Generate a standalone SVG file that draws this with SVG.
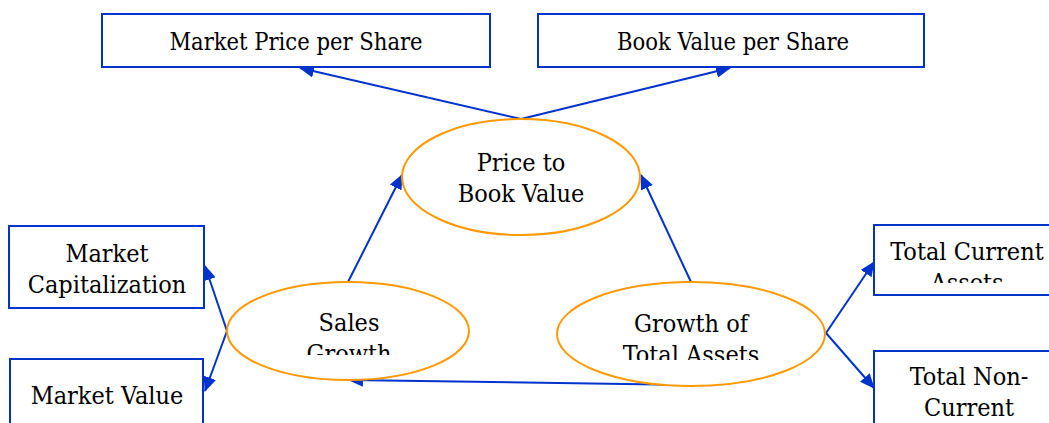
<svg xmlns="http://www.w3.org/2000/svg" width="1049" height="423" viewBox="0 0 1049 423">
  <style>
    .box { fill: #ffffff; stroke: #0033cc; stroke-width: 2; }
    .oval { fill: #ffffff; stroke: #ff9900; stroke-width: 2; }
    .lbl { font-family: 'DejaVu Serif', serif; font-stretch: condensed; font-size: 25px; fill: #000000; text-anchor: middle; }
    .top { font-size: 23.5px; }
    .link { fill: none; stroke: #0033cc; stroke-width: 2; marker-end: url(#head); }
  </style>
  <defs>
    <marker id="head" markerUnits="userSpaceOnUse" markerWidth="15" markerHeight="13" viewBox="0 0 15 13" refX="14" refY="6.5" orient="auto">
      <path d="M0,0 L15,6.5 L0,13 Z" fill="#0033cc"/>
    </marker>
    <clipPath id="clipSales"><rect x="220" y="280" width="260" height="75"/></clipPath>
    <clipPath id="clipAssets"><rect x="550" y="280" width="280" height="80"/></clipPath>
    <clipPath id="clipCurrent"><rect x="870" y="225" width="200" height="58"/></clipPath>
  </defs>

  <rect width="1049" height="423" fill="#ffffff"/>

  <g id="connectors">
    <path class="link" d="M521,119 L300,68"/>
    <path class="link" d="M521,119 L730,68"/>
    <path class="link" d="M348,282 L402,175"/>
    <path class="link" d="M691,282 L641,175"/>
    <path class="link" d="M227,331 L205,266"/>
    <path class="link" d="M227,331 L205,391"/>
    <path class="link" d="M826,333 L874,262"/>
    <path class="link" d="M826,333 L874,388"/>
    <path class="link" d="M691,385 L349,380"/>
  </g>

  <g id="market-price">
    <rect class="box" x="102" y="14" width="388" height="53"/>
    <text class="lbl top" x="296" y="50">Market Price per Share</text>
  </g>

  <g id="book-value">
    <rect class="box" x="538" y="14" width="386" height="53"/>
    <text class="lbl top" x="733" y="50">Book Value per Share</text>
  </g>

  <g id="price-to-book">
    <ellipse class="oval" cx="521" cy="177" rx="119" ry="58"/>
    <text class="lbl" x="521" y="171">Price to</text>
    <text class="lbl" x="521" y="202">Book Value</text>
  </g>

  <g id="market-cap">
    <rect class="box" x="9" y="226" width="195" height="82"/>
    <text class="lbl" x="107" y="262">Market</text>
    <text class="lbl" x="107" y="293">Capitalization</text>
  </g>

  <g id="market-value">
    <rect class="box" x="10" y="359" width="193" height="80"/>
    <text class="lbl" x="107" y="404">Market Value</text>
  </g>

  <g id="sales-growth">
    <ellipse class="oval" cx="348" cy="331" rx="121" ry="49"/>
    <g clip-path="url(#clipSales)">
      <text class="lbl" x="349" y="331">Sales</text>
      <text class="lbl" x="349" y="362">Growth</text>
    </g>
  </g>

  <g id="asset-growth">
    <ellipse class="oval" cx="691" cy="334" rx="134" ry="52"/>
    <g clip-path="url(#clipAssets)">
      <text class="lbl" x="691" y="332">Growth of</text>
      <text class="lbl" x="691" y="363">Total Assets</text>
    </g>
  </g>

  <g id="current-assets">
    <rect class="box" x="874" y="225" width="190" height="70"/>
    <g clip-path="url(#clipCurrent)">
      <text class="lbl" x="967" y="260">Total Current</text>
      <text class="lbl" x="967" y="291">Assets</text>
    </g>
  </g>

  <g id="noncurrent-assets">
    <rect class="box" x="874" y="351" width="190" height="90"/>
    <text class="lbl" x="969" y="385">Total Non-</text>
    <text class="lbl" x="969" y="416">Current</text>
  </g>
</svg>
